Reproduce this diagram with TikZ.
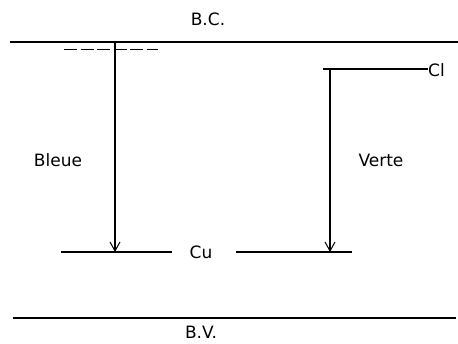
\documentclass[tikz,border=0pt]{standalone}
\usepackage{fontspec}
\setsansfont{DejaVu Sans}
\usetikzlibrary{arrows.meta}
\begin{document}
\begin{tikzpicture}[x=1pt,y=-1pt,
  lvl/.style={line width=1.1pt},
  trans/.style={line width=1.1pt,-{Straight Barb[length=9pt,width=10pt,line width=1pt]}},
  lbl/.style={font=\sffamily\fontsize{17}{19}\selectfont,inner sep=0pt}]
\useasboundingbox (0,0) rectangle (458,343);
% bands
\coordinate (bcL) at (10,42);
\coordinate (bcR) at (458,42);
\draw[lvl] (bcL) -- (bcR);
\node[lbl] (bc) at (208,19) {B.C.};
\coordinate (bvL) at (13,318);
\coordinate (bvR) at (456,318);
\draw[lvl] (bvL) -- (bvR);
\node[lbl] (bv) at (201,332.5) {B.V.};
% dashed level
\coordinate (dL) at (64,49);
\coordinate (dR) at (158,49);
\draw[line width=1pt,dash pattern=on 13pt off 3.5pt] (dL) -- (dR);
% Cu level
\node[lbl] (cu) at (201,252) {Cu};
\coordinate (cuL) at (61,252);
\coordinate (cuR) at (352,252);
\coordinate (cuM1) at (172,252);
\coordinate (cuM2) at (236,252);
\draw[lvl] (cuL) -- (cuM1);
\draw[lvl] (cuM2) -- (cuR);
% Cl level
\node[lbl,anchor=west] (cl) at (428,70) {Cl};
\coordinate (clL) at (323,69);
\coordinate (clR) at (428,69);
\draw[lvl] (clL) -- (clR);
% transitions
\coordinate (a1) at (115,42);
\coordinate (b1) at (115,252);
\draw[trans] (a1) -- (b1);
\node[lbl] (bleue) at (58,160) {Bleue};
\coordinate (a2) at (330,69);
\coordinate (b2) at (330,252);
\draw[trans] (a2) -- (b2);
\node[lbl] (verte) at (381,160) {Verte};
\end{tikzpicture}
\end{document}
